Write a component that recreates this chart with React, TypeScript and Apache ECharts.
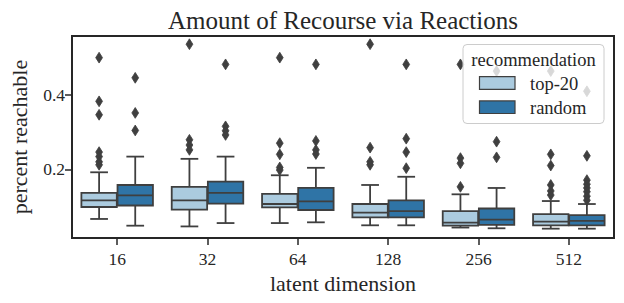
import React, { useEffect, useRef } from "react";
import * as echarts from "echarts";

const categories = ["16", "32", "64", "128", "256", "512"];
const yTicks = [0.2, 0.4];
const hueNames = ["top-20", "random"];

// [low whisker, Q1, median, Q3, high whisker]
const top20Stats = [
  [0.067, 0.099, 0.117, 0.137, 0.192],
  [0.047, 0.092, 0.117, 0.153, 0.228],
  [0.056, 0.098, 0.107, 0.134, 0.184],
  [0.05, 0.071, 0.084, 0.107, 0.158],
  [0.044, 0.049, 0.057, 0.088, 0.133],
  [0.041, 0.05, 0.06, 0.08, 0.115],
];
const randomStats = [
  [0.049, 0.103, 0.13, 0.158, 0.234],
  [0.056, 0.108, 0.137, 0.167, 0.234],
  [0.058, 0.091, 0.114, 0.15, 0.204],
  [0.05, 0.071, 0.088, 0.117, 0.18],
  [0.042, 0.051, 0.065, 0.095, 0.15],
  [0.041, 0.05, 0.062, 0.077, 0.107],
];
const top20Outliers = [
  [0.499, 0.382, 0.346, 0.246, 0.234, 0.22, 0.212],
  [0.535, 0.279, 0.265, 0.252],
  [0.499, 0.27, 0.24, 0.205, 0.198],
  [0.535, 0.258, 0.22, 0.212],
  [0.481, 0.23, 0.216, 0.153],
  [0.463, 0.24, 0.21, 0.158, 0.142, 0.131],
];
const randomOutliers = [
  [0.445, 0.351, 0.304],
  [0.481, 0.315, 0.303, 0.292],
  [0.481, 0.276, 0.252, 0.241],
  [0.481, 0.282, 0.246, 0.203],
  [0.463, 0.274, 0.232],
  [0.409, 0.236, 0.171, 0.16, 0.15, 0.14, 0.128, 0.117],
];

const COLORS = ["#abcbdf", "#2f74a6"];
const GRAY = "#3f3f3f";
const AXIS = "#262626";
const FONT = "Liberation Serif";

function boxSeries(name: string, stats: number[][], color: string, offset: number) {
  return {
    type: "custom",
    name,
    z: 2,
    encode: { x: 0, y: [1, 2, 3, 4, 5] },
    data: stats.map((s, i) => [i, ...s]),
    renderItem: (params: any, api: any) => {
      const cat = api.value(0);
      const band = api.size([1, 0])[0];
      const cx = api.coord([cat, 0])[0] + offset * band;
      const w = band * 0.392;
      const y = (k: number) => api.coord([cat, api.value(k)])[1];
      const yLow = y(1), yQ1 = y(2), yMed = y(3), yQ3 = y(4), yHigh = y(5);
      const ls = { stroke: GRAY, lineWidth: 1.8 };
      return {
        type: "group",
        children: [
          { type: "line", shape: { x1: cx, y1: yLow, x2: cx, y2: yQ1 }, style: ls },
          { type: "line", shape: { x1: cx, y1: yQ3, x2: cx, y2: yHigh }, style: ls },
          { type: "line", shape: { x1: cx - w / 4, y1: yLow, x2: cx + w / 4, y2: yLow }, style: ls },
          { type: "line", shape: { x1: cx - w / 4, y1: yHigh, x2: cx + w / 4, y2: yHigh }, style: ls },
          {
            type: "rect",
            shape: { x: cx - w / 2, y: yQ3, width: w, height: yQ1 - yQ3 },
            style: { fill: color, stroke: GRAY, lineWidth: 1.8 },
          },
          { type: "line", shape: { x1: cx - w / 2, y1: yMed, x2: cx + w / 2, y2: yMed }, style: ls },
        ],
      };
    },
  };
}

function outlierSeries(name: string, outliers: number[][], offset: number) {
  const data: number[][] = [];
  outliers.forEach((vals, i) => vals.forEach((v) => data.push([i, v])));
  return {
    type: "custom",
    name: name + " outliers",
    z: 3,
    encode: { x: 0, y: 1 },
    data,
    renderItem: (params: any, api: any) => {
      const band = api.size([1, 0])[0];
      const p = api.coord([api.value(0), api.value(1)]);
      const cx = p[0] + offset * band;
      const cy = p[1];
      const hw = 3.4, hh = 5.4;
      return {
        type: "polygon",
        shape: { points: [[cx, cy - hh], [cx + hw, cy], [cx, cy + hh], [cx - hw, cy]] },
        style: { fill: GRAY, stroke: GRAY, lineWidth: 0.8 },
      };
    },
  };
}

function legendText(text: string, x: number, y: number, align: string) {
  return {
    type: "text",
    x,
    y,
    z: 101,
    style: {
      text,
      fontFamily: FONT,
      fontSize: 18.5,
      fill: AXIS,
      textAlign: align,
      textVerticalAlign: "middle",
    },
  };
}

export default function App() {
  const ref = useRef<HTMLDivElement>(null);
  useEffect(() => {
    if (!ref.current) return;
    const chart = echarts.init(ref.current, null, { renderer: "svg" });
    chart.setOption({
      animation: false,
      backgroundColor: "#ffffff",
      grid: {
        left: 72,
        top: 36,
        width: 542,
        height: 202,
        show: true,
        borderColor: AXIS,
        borderWidth: 2,
        backgroundColor: "transparent",
      },
      xAxis: {
        type: "category",
        data: categories,
        boundaryGap: true,
        axisLine: { show: false },
        axisTick: { show: true, alignWithLabel: true, length: 7, lineStyle: { color: AXIS, width: 1.5 } },
        axisLabel: { fontFamily: FONT, fontSize: 17.5, color: AXIS, margin: 12 },
        splitLine: { show: false },
        name: "latent dimension",
        nameLocation: "middle",
        nameGap: 34,
        nameTextStyle: { fontFamily: FONT, fontSize: 22, color: AXIS },
      },
      yAxis: {
        type: "value",
        min: 0.016,
        max: 0.557,
        axisLine: { show: false },
        axisTick: { show: true, length: 7, customValues: yTicks, lineStyle: { color: AXIS, width: 1.5 } },
        axisLabel: {
          fontFamily: FONT,
          fontSize: 17.5,
          color: AXIS,
          margin: 7,
          customValues: yTicks,
          formatter: (v: number) => v.toFixed(1),
        },
        splitLine: { show: false },
        name: "percent reachable",
        nameLocation: "middle",
        nameRotate: 90,
        nameGap: 42,
        nameTextStyle: { fontFamily: FONT, fontSize: 22, color: AXIS },
      },
      series: [
        boxSeries(hueNames[0], top20Stats, COLORS[0], -0.2),
        boxSeries(hueNames[1], randomStats, COLORS[1], 0.2),
        outlierSeries(hueNames[0], top20Outliers, -0.2),
        outlierSeries(hueNames[1], randomOutliers, 0.2),
      ],
      graphic: [
        {
          type: "text",
          x: 343,
          y: 20,
          z: 100,
          style: {
            text: "Amount of Recourse via Reactions",
            fontFamily: FONT,
            fontSize: 25,
            fill: AXIS,
            textAlign: "center",
            textVerticalAlign: "middle",
          },
        },
        {
          type: "rect",
          z: 100,
          shape: { x: 463, y: 44.5, width: 141, height: 79, r: 4 },
          style: { fill: "rgba(255,255,255,0.8)", stroke: "#cccccc", lineWidth: 1 },
        },
        legendText("recommendation", 533.5, 59.5, "center"),
        {
          type: "rect",
          z: 101,
          shape: { x: 479.5, y: 76.7, width: 35.5, height: 12.6 },
          style: { fill: COLORS[0], stroke: GRAY, lineWidth: 1.2 },
        },
        {
          type: "rect",
          z: 101,
          shape: { x: 479.5, y: 100.9, width: 35.5, height: 12.6 },
          style: { fill: COLORS[1], stroke: GRAY, lineWidth: 1.2 },
        },
        legendText(hueNames[0], 530, 83.5, "left"),
        legendText(hueNames[1], 530, 107.5, "left"),
      ],
    });
    return () => chart.dispose();
  }, []);
  return (
    <div
      ref={ref}
      style={{ position: "fixed", left: 0, top: 0, width: 624, height: 303 }}
    />
  );
}
